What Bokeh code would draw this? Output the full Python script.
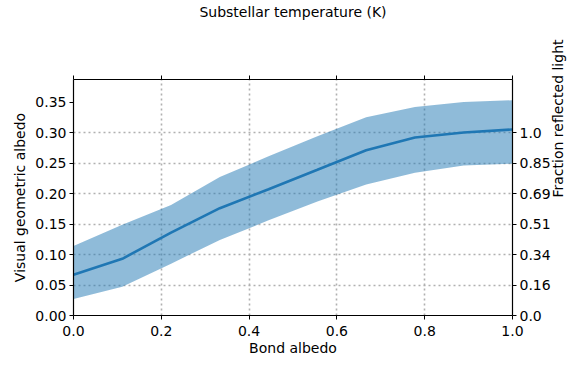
import math
from bokeh.plotting import figure
from bokeh.models import Range1d, LinearAxis, FixedTicker, Label
from bokeh.embed import file_html
from bokeh.resources import INLINE

# Data
bond_albedo = [0.0, 0.1111, 0.2222, 0.3333, 0.4444, 0.5556, 0.6667, 0.7778, 0.8889, 1.0]
geo_mean = [0.067, 0.093, 0.136, 0.176, 0.207, 0.239, 0.271, 0.292, 0.300, 0.305]
geo_upper = [0.114, 0.149, 0.181, 0.227, 0.261, 0.294, 0.325, 0.342, 0.350, 0.353]
geo_lower = [0.027, 0.047, 0.085, 0.124, 0.156, 0.187, 0.215, 0.234, 0.246, 0.249]

left_ticks = [0.0, 0.05, 0.10, 0.15, 0.20, 0.25, 0.30, 0.35]
left_labels = ["0.00", "0.05", "0.10", "0.15", "0.20", "0.25", "0.30", "0.35"]
bottom_ticks = [0.0, 0.2, 0.4, 0.6, 0.8, 1.0]
bottom_labels = ["0.0", "0.2", "0.4", "0.6", "0.8", "1.0"]
top_labels = ["3030", "2860", "2660", "2410", "2020", "0"]
right_ticks = [0.0, 0.05, 0.10, 0.15, 0.20, 0.25, 0.30]
right_labels = ["0.0", "0.16", "0.34", "0.51", "0.69", "0.85", "1.0"]

Y_MAX = 0.387
FONT = "DejaVu Sans"
FS = "14px"
BLUE = "#1f77b4"

p = figure(width=577, height=366, output_backend="svg", toolbar_location=None,
           x_range=Range1d(0, 1), y_range=Range1d(0, Y_MAX),
           min_border_left=73, min_border_right=65, min_border_top=75, min_border_bottom=51,
           x_axis_label="Bond albedo", y_axis_label="Visual geometric albedo")
p.outline_line_color = None
p.extra_x_ranges = {"top": Range1d(0, 1)}
p.extra_y_ranges = {"right": Range1d(0, Y_MAX)}

p.varea(x=bond_albedo, y1=geo_lower, y2=geo_upper, fill_color=BLUE, fill_alpha=0.5)
p.line(bond_albedo, geo_mean, line_color=BLUE, line_width=2.6)

bottom_axis = p.below[0]
left_axis = p.left[0]

top_axis = LinearAxis(x_range_name="top", axis_label="Substellar temperature (K)")
p.add_layout(top_axis, "above")

right_axis = LinearAxis(y_range_name="right", axis_label="Fraction reflected light")
p.add_layout(right_axis, "right")

bottom_axis.ticker = FixedTicker(ticks=bottom_ticks)
bottom_axis.major_label_overrides = {t: l for t, l in zip(bottom_ticks, bottom_labels)}
left_axis.ticker = FixedTicker(ticks=left_ticks)
left_axis.major_label_overrides = {t: l for t, l in zip(left_ticks, left_labels)}
# top axis: tick marks only (as minor ticks, which carry no labels); labels drawn below
top_axis.ticker = FixedTicker(ticks=[], minor_ticks=bottom_ticks)
right_axis.ticker = FixedTicker(ticks=right_ticks)
right_axis.major_label_overrides = {t: l for t, l in zip(right_ticks, right_labels)}
right_axis.axis_label_orientation = math.pi / 2

for ax in (bottom_axis, left_axis, top_axis, right_axis):
    ax.axis_line_color = "black"
    ax.axis_line_width = 1.2
    ax.major_tick_line_color = "black"
    ax.major_tick_line_width = 1
    ax.major_tick_out = 4
    ax.major_tick_in = 0
    ax.minor_tick_line_color = None
    ax.major_label_text_font = FONT
    ax.major_label_text_font_size = FS
    ax.major_label_text_color = "black"
    ax.major_label_standoff = 3
    ax.axis_label_text_font = FONT
    ax.axis_label_text_font_size = FS
    ax.axis_label_text_font_style = "normal"
    ax.axis_label_text_color = "black"
    ax.axis_label_standoff = 4

bottom_axis.major_label_standoff = 6
bottom_axis.axis_label_standoff = 1
top_axis.minor_tick_line_color = "black"
top_axis.minor_tick_line_width = 1
top_axis.minor_tick_out = 4
top_axis.minor_tick_in = 0
top_axis.major_label_standoff = 0
top_axis.axis_label_standoff = 56

# rotated top tick labels (bounding box centred on the tick, bottom aligned)
rot = math.pi / 4
char_w, text_h = 8.9, 16.0
for t, s in zip(bottom_ticks, top_labels):
    box_h = (len(s) * char_w + text_h) * math.sin(rot)
    p.add_layout(Label(x=t, y=Y_MAX, x_range_name="top", text=s, y_offset=13 + box_h / 2,
                       angle=rot, text_align="center", text_baseline="middle",
                       text_font=FONT, text_font_size=FS, text_color="black"))

p.xgrid.ticker = FixedTicker(ticks=bottom_ticks)
p.ygrid.ticker = FixedTicker(ticks=right_ticks)
for g in (p.xgrid[0], p.ygrid[0]):
    g.grid_line_color = "#b0b0b0"
    g.grid_line_width = 1.6
    g.grid_line_dash = "2 3"

open("out.html", "w").write(file_html(p, INLINE))
